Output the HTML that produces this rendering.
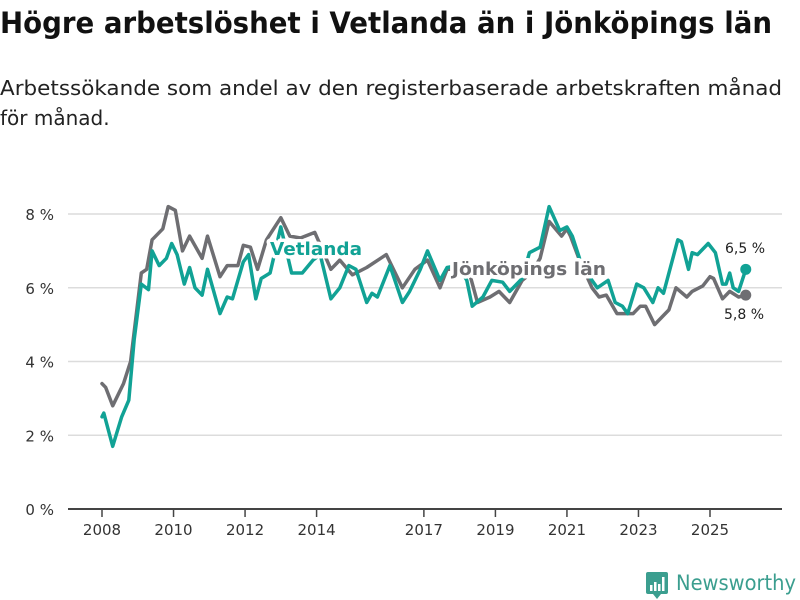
<!DOCTYPE html>
<html><head><meta charset="utf-8">
<style>
body{margin:0;background:#fff;font-family:"Liberation Sans","DejaVu Sans",sans-serif;}
#wrap{position:relative;width:800px;height:600px;overflow:hidden;}
</style></head>
<body>
<div id="wrap">
<svg id="chart" width="800" height="600" xmlns="http://www.w3.org/2000/svg">
<text x="0" y="33" font-size="29" font-weight="bold" fill="#111" font-family="DejaVu Sans, sans-serif" textLength="772" lengthAdjust="spacingAndGlyphs">Högre arbetslöshet i Vetlanda än i Jönköpings län</text>
<text x="0" y="95" font-size="20" fill="#222" font-family="DejaVu Sans, sans-serif" textLength="782" lengthAdjust="spacingAndGlyphs">Arbetssökande som andel av den registerbaserade arbetskraften månad</text>
<text x="0" y="125" font-size="20" fill="#222" font-family="DejaVu Sans, sans-serif">för månad.</text>
<g id="grid"></g>
<g id="series"></g>
<g id="labels"></g>
<g>
<rect x="646" y="572" width="22" height="22" rx="2" fill="#3b9e8f"/>
<polygon points="653,594 661,594 657,599" fill="#3b9e8f"/>
<rect x="650" y="585" width="2.5" height="6" fill="#fff"/><rect x="654" y="582" width="2.5" height="9" fill="#fff"/><rect x="658" y="584" width="2.5" height="7" fill="#fff"/><rect x="662" y="577" width="2.5" height="14" fill="#fff"/>
<text x="676" y="590" font-size="21" fill="#3b9e8f" font-family="DejaVu Sans, sans-serif" textLength="120" lengthAdjust="spacingAndGlyphs">Newsworthy</text>
</g>
</svg>
</div>
<script>
const yTicks=[0,2,4,6,8];
const xTicks=[2008,2010,2012,2014,2017,2019,2021,2023,2025];
const jkpDates=[2008.0,2008.1,2008.3,2008.6,2008.8,2009.1,2009.25,2009.4,2009.7,2009.85,2010.05,2010.25,2010.45,2010.8,2010.95,2011.3,2011.5,2011.8,2011.95,2012.15,2012.35,2012.6,2013.0,2013.25,2013.55,2013.95,2014.4,2014.65,2015.0,2015.4,2015.95,2016.4,2016.75,2017.1,2017.45,2017.65,2018.0,2018.3,2018.5,2018.85,2019.1,2019.4,2019.75,2020.0,2020.25,2020.5,2020.85,2021.0,2021.1,2021.35,2021.7,2021.9,2022.1,2022.4,2022.85,2023.05,2023.2,2023.45,2023.85,2024.05,2024.35,2024.5,2024.8,2025.0,2025.1,2025.35,2025.55,2025.8,2026.0];
const jkpValues=[3.4,3.3,2.8,3.4,4.0,6.4,6.5,7.3,7.6,8.2,8.1,7.0,7.4,6.8,7.4,6.3,6.6,6.6,7.15,7.1,6.5,7.3,7.9,7.4,7.35,7.5,6.5,6.75,6.35,6.55,6.9,6.0,6.5,6.75,6.0,6.5,6.5,6.3,5.6,5.75,5.9,5.6,6.2,6.4,6.8,7.8,7.4,7.6,7.4,6.75,6.0,5.75,5.8,5.3,5.3,5.5,5.5,5.0,5.4,6.0,5.75,5.9,6.05,6.3,6.25,5.7,5.9,5.75,5.8];
const vetDates=[2008.0,2008.05,2008.3,2008.55,2008.75,2008.9,2009.1,2009.3,2009.4,2009.6,2009.8,2009.95,2010.1,2010.3,2010.45,2010.6,2010.8,2010.95,2011.3,2011.5,2011.65,2011.95,2012.1,2012.3,2012.45,2012.7,2013.0,2013.3,2013.6,2013.9,2014.1,2014.4,2014.65,2014.9,2015.1,2015.4,2015.55,2015.7,2016.05,2016.4,2016.6,2016.9,2017.1,2017.45,2017.65,2017.95,2018.2,2018.35,2018.65,2018.9,2019.2,2019.4,2019.75,2019.95,2020.25,2020.5,2020.8,2021.0,2021.15,2021.35,2021.7,2021.85,2022.15,2022.35,2022.55,2022.7,2022.95,2023.15,2023.4,2023.55,2023.7,2024.1,2024.2,2024.4,2024.5,2024.65,2024.95,2025.15,2025.35,2025.45,2025.55,2025.65,2025.8,2026.0];
const vetValues=[2.5,2.6,1.7,2.5,2.95,4.6,6.1,5.95,7.0,6.6,6.8,7.2,6.9,6.1,6.55,6.0,5.8,6.5,5.3,5.75,5.7,6.7,6.9,5.7,6.25,6.4,7.65,6.4,6.4,6.75,6.9,5.7,6.0,6.6,6.5,5.6,5.85,5.75,6.6,5.6,5.9,6.5,7.0,6.2,6.55,6.6,6.2,5.5,5.75,6.2,6.15,5.9,6.25,6.95,7.1,8.2,7.55,7.65,7.4,6.8,6.2,6.0,6.2,5.6,5.5,5.3,6.1,6.0,5.6,6.0,5.85,7.3,7.25,6.5,6.95,6.9,7.2,6.95,6.1,6.1,6.4,6.0,5.9,6.5];

const NS='http://www.w3.org/2000/svg';
const X0=68,X1=782,Y0=509,Y8=214;
function xs(t){return 102+(t-2008)*(710-102)/17;}
function ys(v){return Y0-(v/8)*(Y0-Y8);}
function mk(tag,attrs,parent){const e=document.createElementNS(NS,tag);for(const k in attrs)e.setAttribute(k,attrs[k]);parent.appendChild(e);return e;}
const grid=document.getElementById('grid');
yTicks.forEach(v=>{
  if(v>0){const l=mk('line',{x1:X0,x2:X1,y1:ys(v),y2:ys(v),stroke:'#dcdcdc','stroke-width':1.5},grid);
  
  }
  const t=mk('text',{x:54,y:ys(v)+6,'text-anchor':'end','font-size':15,fill:'#333','font-family':'DejaVu Sans, sans-serif'},grid);
  t.textContent=v+' %';
  
  
});
const ax=mk('line',{x1:X0,x2:X1,y1:Y0,y2:Y0,stroke:'#444','stroke-width':2},grid);


xTicks.forEach(yr=>{
  const tk=mk('line',{x1:xs(yr),x2:xs(yr),y1:Y0,y2:Y0+8,stroke:'#444','stroke-width':1.5},grid);
  
  
  const t=mk('text',{x:xs(yr),y:Y0+26,'text-anchor':'middle','font-size':15,fill:'#333','font-family':'DejaVu Sans, sans-serif'},grid);
  t.textContent=yr;
  
  
});
const ser=document.getElementById('series');
function line(d,v,c,name){
  const pts=d.map((t,i)=>xs(t).toFixed(1)+','+ys(v[i]).toFixed(1)).join(' ');
  const p=mk('polyline',{points:pts,fill:'none',stroke:c,'stroke-width':3.5,'stroke-linejoin':'round','stroke-linecap':'round'},ser);
  
  
  const n=d.length-1;
  const c2=mk('circle',{cx:xs(d[n]),cy:ys(v[n]),r:5.5,fill:c},ser);
  
  
}
line(jkpDates,jkpValues,'#6e6e72','jonkoping-line');
line(vetDates,vetValues,'#11a295','vetlanda-line');
const lab=document.getElementById('labels');
function label(txt,x,y,c,name,size,bold,halo,len){
  const extra=len?{textLength:len,lengthAdjust:'spacingAndGlyphs'}:{};
  if(halo){const h=mk('text',Object.assign({x:x,y:y,'font-size':size,'font-weight':bold?'bold':'normal',fill:'#fff',stroke:'#fff','stroke-width':7,'stroke-linejoin':'round','font-family':'DejaVu Sans, sans-serif'},extra),lab);h.textContent=txt;}
  const t=mk('text',Object.assign({x:x,y:y,'font-size':size,'font-weight':bold?'bold':'normal',fill:c,'font-family':'DejaVu Sans, sans-serif'},extra),lab);
  t.textContent=txt;
  
  
}
label('Vetlanda',270,255,'#11a295','vetlanda-series-label',18,true,true,92);
label('Jönköpings län',452,275,'#6e6e72','jonkoping-series-label',18,true,true,154);
label('6,5 %',725,253,'#222','vetlanda-last-value',14,false,false,0);
label('5,8 %',724,319,'#222','jonkoping-last-value',14,false,false,0);
</script>
</body></html>
